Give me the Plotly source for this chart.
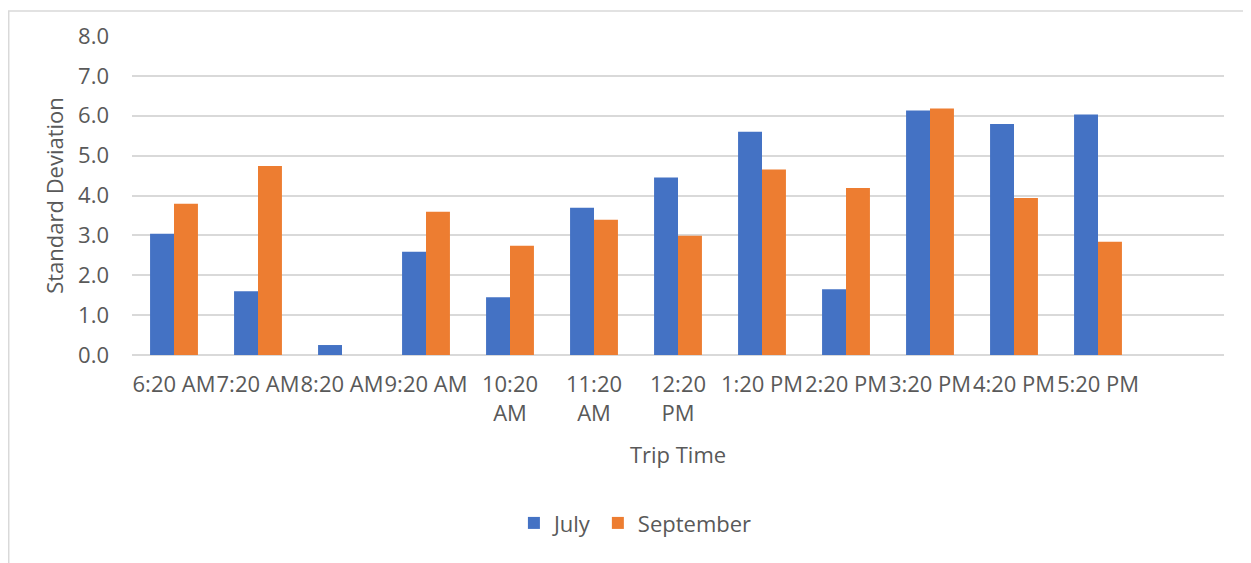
import plotly.graph_objects as go

trip_times = ["6:20 AM", "7:20 AM", "8:20 AM", "9:20 AM", "10:20<br>AM", "11:20<br>AM",
              "12:20<br>PM", "1:20 PM", "2:20 PM", "3:20 PM", "4:20 PM", "5:20 PM", ""]
july = [3.04, 1.60, 0.25, 2.59, 1.45, 3.69, 4.45, 5.60, 1.65, 6.13, 5.79, 6.03, None]
september = [3.79, 4.74, None, 3.59, 2.74, 3.39, 2.99, 4.65, 4.19, 6.18, 3.94, 2.84, None]

x = list(range(len(trip_times)))
grey = "#595959"
font = "'Open Sans', sans-serif"
fsize = 22

fig = go.Figure()
fig.add_bar(x=x, y=july, name="July", marker_color="#4472C4", marker_line_width=0)
fig.add_bar(x=x, y=september, name="September", marker_color="#ED7D31", marker_line_width=0)

# page body has an 8px margin, so the figure is a bit smaller than the window
fig.update_layout(
    width=1243, height=555,
    barmode="group", bargap=0.43, bargroupgap=0,
    plot_bgcolor="white", paper_bgcolor="white",
    margin=dict(l=124, r=27, t=26, b=208),
    font=dict(family=font, size=fsize, color=grey),
    legend=dict(orientation="h", x=0.461, xanchor="center", y=-0.527, yanchor="middle",
                font=dict(size=fsize, color=grey), itemsizing="constant",
                tracegroupgap=0, itemwidth=30),
    shapes=[dict(type="rect", xref="paper", yref="paper",
                 x0=-0.1129, x1=1.0211, y0=-0.75, y1=1.0787,
                 line=dict(color="#d9d9d9", width=1.5))],
)
fig.update_xaxes(
    tickmode="array", tickvals=x, ticktext=trip_times, tickangle=0,
    range=[-0.5, len(trip_times) - 0.5],
    showgrid=False, showline=False, zeroline=False, ticks="",
    ticklabelstandoff=14,
    title=dict(text="Trip Time", font=dict(size=fsize, color=grey), standoff=22),
)
fig.update_yaxes(
    range=[0, 8], dtick=1, tickformat=".1f",
    showgrid=True, gridcolor="#d9d9d9", gridwidth=1.5,
    zeroline=True, zerolinecolor="#d9d9d9", zerolinewidth=1.5,
    showline=False, ticks="", ticklabelstandoff=22,
    title=dict(text="Standard Deviation", font=dict(size=fsize, color=grey), standoff=8),
)

fig.write_html("out.html")
